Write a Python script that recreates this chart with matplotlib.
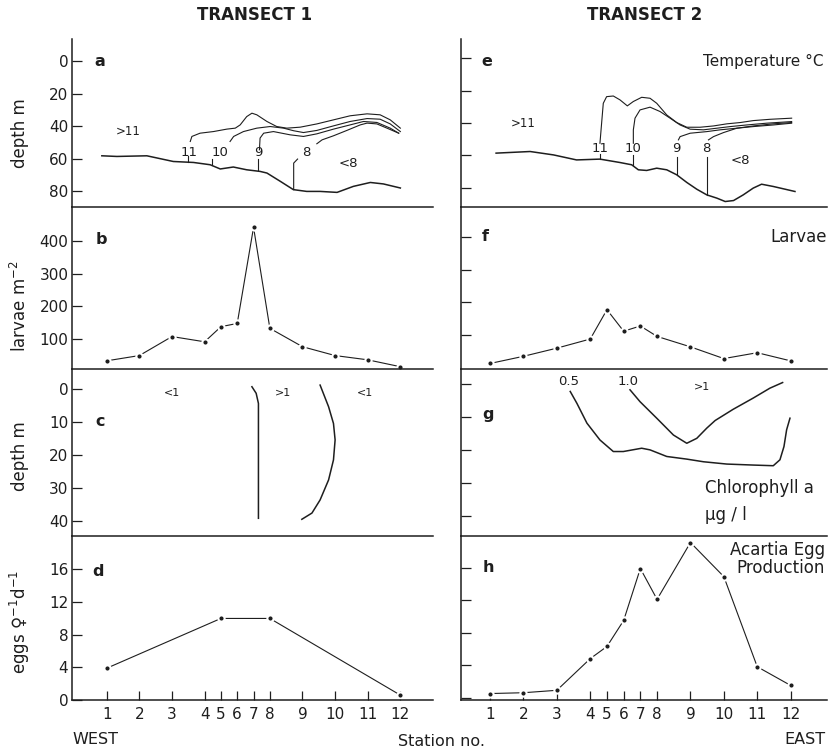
import matplotlib.pyplot as plt

plt.rcParams['font.family'] = ['DejaVu Sans']

INK = '#1e1e1e'

# stations and their position along the transect (5-8 are closer together)
stations = [1, 2, 3, 4, 5, 6, 7, 8, 9, 10, 11, 12]
station_pos = [0, 1, 2, 3, 3.5, 4, 4.5, 5, 6, 7, 8, 9]

# --- temperature section, transect 1 (x = position, d = depth m) ---
t1_bottom_x = [-0.15, 0.31, 1.23, 2.04, 2.66, 3.17, 3.48, 3.88, 4.29, 4.70, 4.91,
               5.32, 5.72, 6.13, 6.54, 7.06, 7.56, 8.08, 8.48, 9.0]
t1_bottom_d = [58.3, 58.7, 58.3, 61.8, 62.4, 63.8, 66.4, 65.2, 66.9, 67.9, 68.9,
               74.0, 79.1, 80.2, 80.2, 80.8, 77.1, 74.7, 75.6, 78.1]
t1_iso11_x = [2.56, 2.61, 2.86, 3.27, 3.68, 3.94, 4.09, 4.29, 4.45, 4.60, 4.91, 5.21,
              5.52, 5.93, 6.44, 6.95, 7.46, 7.98, 8.38, 8.69, 9.0]
t1_iso11_d = [49.5, 46.4, 44.4, 43.4, 41.9, 41.3, 39.3, 34.2, 32.1, 33.1, 37.2, 40.3,
              41.3, 40.7, 38.7, 36.2, 33.7, 32.5, 33.1, 36.2, 41.3]
t1_iso10_x = [3.78, 3.89, 4.19, 4.60, 5.01, 5.42, 5.73, 6.03, 6.44, 6.95, 7.46, 7.98,
              8.38, 8.69, 9.0]
t1_iso10_d = [49.5, 46.4, 43.4, 41.3, 40.3, 41.3, 42.9, 44.0, 42.7, 39.9, 37.2, 35.4,
              35.8, 38.7, 43.4]
t1_iso9_x = [4.68, 4.70, 4.81, 5.11, 5.62, 6.03, 6.44, 6.95, 7.46, 7.87, 8.28, 8.69, 8.95]
t1_iso9_d = [54.6, 47.4, 44.4, 43.4, 45.4, 46.4, 44.8, 41.9, 39.3, 37.2, 37.8, 41.3, 44.4]
t1_iso8_x = [6.44, 6.60, 6.95, 7.36, 7.77, 7.98, 8.28, 8.59, 8.95]
t1_iso8_d = [50.9, 48.5, 46.0, 42.7, 39.3, 38.2, 38.7, 41.3, 44.4]
# short segments between the isotherm labels and the bottom line
t1_stub_x = [[2.48, 2.48], [3.22, 3.22], [4.65, 4.65], [5.73, 5.73, 5.85]]
t1_stub_d = [[62.2, 58.7], [64.2, 60.3], [67.3, 60.3], [79.1, 62.8, 60.3]]

# --- temperature section, transect 2 ---
t2_bottom_x = [0.18, 1.20, 1.90, 2.59, 3.29, 3.89, 4.24, 4.44, 4.69, 4.99, 5.29, 5.59,
               5.89, 6.19, 6.49, 6.79, 7.04, 7.29, 7.58, 7.88, 8.13, 8.48, 9.13]
t2_bottom_d = [58.6, 57.6, 59.7, 62.8, 62.3, 64.4, 65.8, 68.9, 69.3, 67.9, 68.9, 72.0,
               76.7, 80.9, 84.4, 86.4, 88.5, 87.9, 84.4, 80.2, 77.8, 79.2, 82.3]
t2_iso11_x = [3.29, 3.34, 3.39, 3.49, 3.69, 3.89, 4.11, 4.29, 4.54, 4.79, 4.99, 5.29,
              5.59, 5.89, 6.29, 6.69, 7.09, 7.49, 7.88, 8.38, 9.03]
t2_iso11_d = [52.5, 40.1, 27.8, 23.7, 23.3, 25.7, 29.4, 26.7, 24.1, 24.7, 27.8, 35.0,
              39.7, 42.6, 42.6, 41.8, 40.5, 39.7, 38.5, 37.7, 37.0]
t2_iso10_x = [4.29, 4.29, 4.34, 4.49, 4.79, 5.09, 5.39, 5.69, 5.99, 6.39, 6.79, 7.19,
              7.68, 8.28, 9.03]
t2_iso10_d = [52.5, 44.2, 37.0, 31.9, 30.2, 32.9, 37.0, 41.2, 43.8, 44.2, 43.2, 42.2,
              41.2, 40.1, 39.1]
t2_iso9_x = [5.64, 5.69, 5.99, 6.49, 6.89, 7.39, 7.88, 8.48, 9.03]
t2_iso9_d = [50.4, 48.4, 46.3, 45.3, 44.2, 43.2, 42.2, 41.2, 40.1]
t2_iso8_x = [6.54, 6.69, 6.99, 7.39, 7.88, 8.48, 9.03]
t2_iso8_d = [50.4, 48.4, 45.9, 43.2, 41.8, 40.5, 39.7]
t2_stub_x = [[3.29, 3.29], [4.27, 4.27], [5.59, 5.59], [6.49, 6.49]]
t2_stub_d = [[62.3, 59.0], [65.8, 59.7], [72.0, 60.7], [84.4, 60.7]]

iso_labels = ['11', '10', '9', '8']
t1_iso_label_x = [2.51, 3.48, 4.65, 6.13]
t2_iso_label_x = [3.29, 4.27, 5.59, 6.47]

# --- larvae m-2 ---
larvae_t1 = [34, 50, 108, 92, 138, 148, 441, 133, 77, 50, 37, 16]
larvae_t2 = [12, 34, 59, 87, 177, 111, 127, 95, 63, 27, 45, 20]

# --- chlorophyll a isolines ---
c1_line1_x = [4.45, 4.58, 4.65, 4.65]
c1_line1_d = [-0.8, 1.2, 4.3, 39.3]
c1_line2_x = [6.54, 6.80, 6.95, 7.00, 6.95, 6.80, 6.54, 6.29, 5.98]
c1_line2_d = [-1.3, 5.3, 10.4, 15.4, 21.5, 27.6, 33.7, 37.7, 39.6]
c2_05_x = [2.40, 2.60, 2.90, 3.29, 3.69, 3.99, 4.54, 4.79, 5.29, 5.89, 6.39, 7.09,
           7.88, 8.48, 8.68, 8.80, 8.88, 8.98]
c2_05_d = [2.2, 5.8, 11.8, 16.9, 20.4, 20.4, 19.4, 19.9, 21.9, 22.7, 23.5, 24.2,
           24.5, 24.7, 22.9, 18.9, 13.8, 10.3]
c2_10_x = [4.19, 4.49, 4.99, 5.49, 5.89, 6.19, 6.49, 6.74, 7.28, 7.88, 8.38, 8.76]
c2_10_d = [1.7, 5.3, 10.3, 15.4, 17.9, 16.4, 13.3, 11.0, 7.6, 4.2, 1.2, -0.5]

# --- Acartia egg production, eggs per female per day ---
egg_stations_t1 = [1, 5, 8, 12]
eggs_t1 = [3.9, 10.0, 10.0, 0.6]
eggs_t2 = [0.5, 0.6, 0.9, 4.8, 6.3, 9.5, 15.9, 12.1, 19.1, 14.9, 3.8, 1.5]

fig = plt.figure(figsize=(8.37, 7.52), dpi=100)

col_left = [0.0866, 0.5504]
col_width = [0.4307, 0.4377]
row_box = [(0.7247, 0.2234), (0.5093, 0.2154), (0.2872, 0.2221), (0.0691, 0.2181)]
xlims = [(-1.05, 10.0), (-0.88, 10.09)]
ylims = [[(89.8, -13.5), (9, 503), (44.7, -6.2), (0, 20.1)],
         [(91.9, -11.9), (-5, 492), (46.0, -4.6), (-0.3, 19.9)]]
yticks = [[0, 20, 40, 60, 80], [100, 200, 300, 400], [0, 10, 20, 30, 40], [0, 4, 8, 12, 16]]

axes = [[None] * 4, [None] * 4]
for c in range(2):
    for r in range(4):
        b, h = row_box[r]
        ax = fig.add_axes([col_left[c], b, col_width[c], h])
        ax.set_xlim(*xlims[c])
        ax.set_ylim(*ylims[c][r])
        ax.set_yticks(yticks[r])
        for s in ['top', 'right']:
            ax.spines[s].set_visible(False)
        for s in ['left', 'bottom']:
            ax.spines[s].set_linewidth(1.1)
            ax.spines[s].set_color(INK)
        ax.tick_params(direction='in', length=7, width=0.9, colors=INK,
                       labelsize=11, pad=3)
        ax.tick_params(axis='x', length=6.5, pad=5)
        if r < 3:
            ax.tick_params(axis='x', bottom=False, labelbottom=False)
        else:
            ax.set_xticks(station_pos)
            ax.set_xticklabels([str(s) for s in stations])
        if c == 1:
            ax.tick_params(axis='y', labelleft=False)
        ax.patch.set_alpha(0)
        axes[c][r] = ax

line_kw = dict(color=INK, lw=0.8, solid_joinstyle='round')
mark_kw = dict(color=INK, lw=0.8, marker='o', ms=4.5, mfc=INK, mec='white', mew=1.5)
thick_kw = dict(color=INK, lw=1.1, solid_joinstyle='round')

# panels a / e: temperature
iso_sets = [
    (t1_bottom_x, t1_bottom_d, [(t1_iso11_x, t1_iso11_d), (t1_iso10_x, t1_iso10_d),
                                (t1_iso9_x, t1_iso9_d), (t1_iso8_x, t1_iso8_d)],
     t1_stub_x, t1_stub_d, t1_iso_label_x),
    (t2_bottom_x, t2_bottom_d, [(t2_iso11_x, t2_iso11_d), (t2_iso10_x, t2_iso10_d),
                                (t2_iso9_x, t2_iso9_d), (t2_iso8_x, t2_iso8_d)],
     t2_stub_x, t2_stub_d, t2_iso_label_x),
]
for c, (bx, bd, isos, sx, sd, lx) in enumerate(iso_sets):
    ax = axes[c][0]
    ax.plot(bx, bd, **thick_kw)
    for xs, ds in isos:
        ax.plot(xs, ds, **line_kw)
    for xs, ds in zip(sx, sd):
        ax.plot(xs, ds, **line_kw)
    for lab, x in zip(iso_labels, lx):
        ax.text(x, 56.0, lab, fontsize=9.5, ha='center', va='center', color=INK)

axes[0][0].text(0.66, 43.4, '>11', fontsize=8.5, ha='center', va='center', color=INK)
axes[0][0].text(7.41, 62.8, '<8', fontsize=9.5, ha='center', va='center', color=INK)
axes[1][0].text(1.0, 40.5, '>11', fontsize=8.5, ha='center', va='center', color=INK)
axes[1][0].text(7.49, 63.4, '<8', fontsize=9.5, ha='center', va='center', color=INK)
axes[1][0].text(9.97, 2.1, 'Temperature °C', fontsize=11, ha='right', va='center', color=INK)

# panels b / f: larvae
axes[0][1].plot(station_pos, larvae_t1, **mark_kw)
axes[1][1].plot(station_pos, larvae_t2, **mark_kw)
axes[1][1].text(10.08, 401, 'Larvae', fontsize=12, ha='right', va='center', color=INK)

# panels c / g: chlorophyll
axes[0][2].plot(c1_line1_x, c1_line1_d, **thick_kw)
axes[0][2].plot(c1_line2_x, c1_line2_d, **thick_kw)
for x, lab in zip([1.99, 5.40, 7.92], ['<1', '>1', '<1']):
    axes[0][2].text(x, 1.2, lab, fontsize=8, ha='center', va='center', color=INK)
axes[1][2].plot(c2_05_x, c2_05_d, **thick_kw)
axes[1][2].plot(c2_10_x, c2_10_d, **thick_kw)
axes[1][2].text(2.35, -0.8, '0.5', fontsize=9.5, ha='center', va='center', color=INK)
axes[1][2].text(4.14, -0.8, '1.0', fontsize=9.5, ha='center', va='center', color=INK)
axes[1][2].text(6.34, 0.7, '>1', fontsize=8, ha='center', va='center', color=INK)
axes[1][2].text(6.44, 31.4, 'Chlorophyll a', fontsize=12, ha='left', va='center', color=INK)
axes[1][2].text(6.44, 39.6, 'µg / l', fontsize=12, ha='left', va='center', color=INK)

# panels d / h: egg production
egg_pos_t1 = [station_pos[stations.index(s)] for s in egg_stations_t1]
axes[0][3].plot(egg_pos_t1, eggs_t1, **mark_kw)
axes[1][3].plot(station_pos, eggs_t2, **mark_kw)
axes[1][3].text(10.03, 18.2, 'Acartia Egg', fontsize=12, ha='right', va='center', color=INK)
axes[1][3].text(10.03, 16.0, 'Production', fontsize=12, ha='right', va='center', color=INK)

# panel letters
letters = [[('a', -0.2, 0.4), ('b', -0.17, 405), ('c', -0.2, 9.9), ('d', -0.26, 15.7)],
           [('e', -0.1, 2.1), ('f', -0.15, 402), ('g', -0.05, 9.3), ('h', -0.05, 16.0)]]
for c in range(2):
    for r in range(4):
        lab, x, y = letters[c][r]
        axes[c][r].text(x, y, lab, fontsize=11.5, fontweight='bold',
                        ha='center', va='center', color=INK)

# y labels
ylab_y = [1 - 133 / 752, 1 - 306 / 752, 1 - 456 / 752, 1 - 622 / 752]
ylab_txt = ['depth m', 'larvae m$^{-2}$', 'depth m', 'eggs ♀$^{-1}$d$^{-1}$']
for y, t in zip(ylab_y, ylab_txt):
    fig.text(20 / 837, y, t, rotation=90, fontsize=12, ha='center', va='center', color=INK)

fig.text(255 / 837, 1 - 15 / 752, 'TRANSECT 1', fontsize=12, fontweight='bold',
         ha='center', va='center', color=INK)
fig.text(645 / 837, 1 - 15 / 752, 'TRANSECT 2', fontsize=12, fontweight='bold',
         ha='center', va='center', color=INK)
fig.text(72 / 837, 1 - 740 / 752, 'WEST', fontsize=11.5, ha='left', va='center', color=INK)
fig.text(398 / 837, 1 - 741 / 752, 'Station no.', fontsize=11.5, ha='left', va='center', color=INK)
fig.text(826 / 837, 1 - 740 / 752, 'EAST', fontsize=11.5, ha='right', va='center', color=INK)

fig.savefig('out.png', dpi=100, facecolor='white')
